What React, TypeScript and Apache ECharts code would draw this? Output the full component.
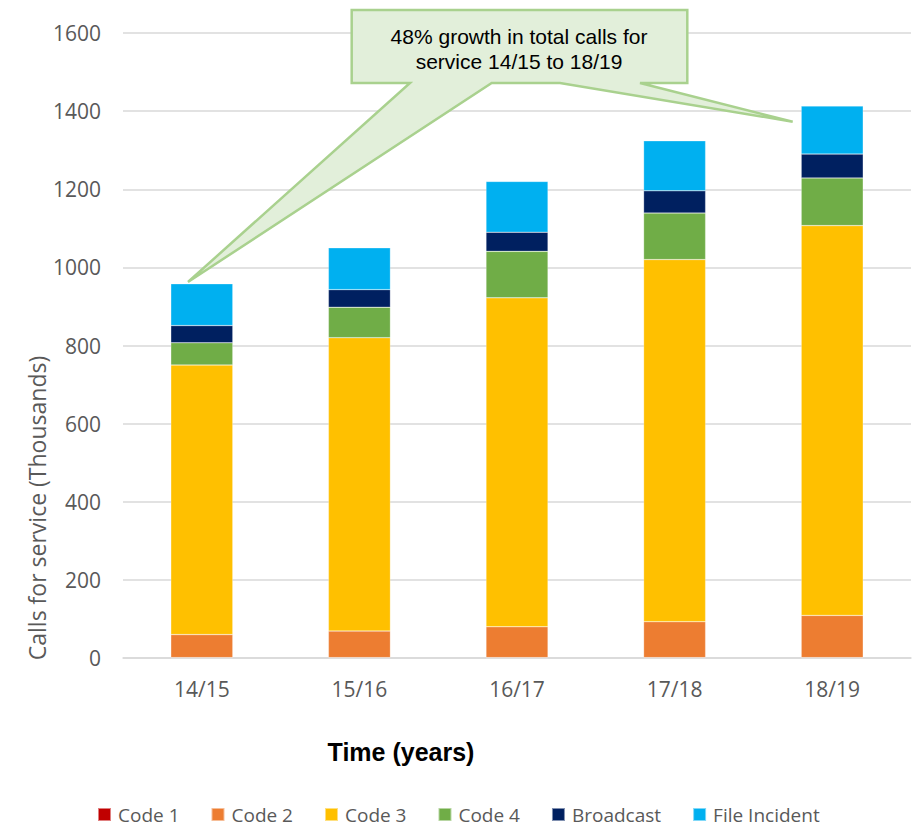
import React, { useEffect, useRef } from "react";
import * as echarts from "echarts";

// Calls for service by financial year, in thousands
const years = ["14/15", "15/16", "16/17", "17/18", "18/19"];
const code1 = [1, 1, 1, 1, 1];
const code2 = [59, 68, 79, 92, 108];
const code3 = [690, 751, 842, 927, 998];
const code4 = [57, 78, 119, 119, 122];
const broadcast = [44, 45, 49, 57, 61];
const fileIncident = [107, 107, 130, 128, 123];

const yTicks = { min: 0, max: 1600, interval: 200 };

const seriesDefs = [
  { name: "Code 1", data: code1, color: "#C00000" },
  { name: "Code 2", data: code2, color: "#ED7D31" },
  { name: "Code 3", data: code3, color: "#FFC000" },
  { name: "Code 4", data: code4, color: "#70AD47" },
  { name: "Broadcast", data: broadcast, color: "#002060" },
  { name: "File Incident", data: fileIncident, color: "#00B0F0" },
];

const calloutLines = ["48% growth in total calls for", "service 14/15 to 18/19"];

const TICK_FONT = "'Open Sans', 'Noto Sans', sans-serif";
const ARIAL = "'Liberation Sans', Arial, sans-serif";
const GREY = "#595959";

export default function App() {
  const ref = useRef<HTMLDivElement>(null);

  useEffect(() => {
    document.body.style.margin = "0";
    const chart = echarts.init(ref.current!, null, { renderer: "svg" });

    const option: echarts.EChartsOption = {
      animation: false,
      backgroundColor: "#ffffff",
      grid: { left: 123, right: 1, top: 33, bottom: 169, containLabel: false },
      xAxis: {
        type: "category",
        data: years,
        axisLine: { show: true, lineStyle: { color: "#d9d9d9", width: 1.5 } },
        axisTick: { show: false },
        axisLabel: {
          color: GREY,
          fontFamily: TICK_FONT,
          fontSize: 21,
          margin: 20,
        },
      },
      yAxis: {
        type: "value",
        min: yTicks.min,
        max: yTicks.max,
        interval: yTicks.interval,
        axisLine: { show: false },
        axisTick: { show: false },
        splitLine: { lineStyle: { color: "#d9d9d9", width: 1.5 } },
        axisLabel: {
          color: GREY,
          fontFamily: TICK_FONT,
          fontSize: 21,
          margin: 22,
          formatter: (v: number) => String(v),
        },
      },
      legend: {
        data: seriesDefs.map((s) => s.name),
        left: 97,
        top: 805,
        padding: 0,
        itemWidth: 13,
        itemHeight: 13,
        itemGap: 31,
        icon: "rect",
        textStyle: {
          color: GREY,
          fontFamily: TICK_FONT,
          fontSize: 19,
          lineHeight: 19,
          padding: [0, 0, 0, 2],
        },
      },
      series: seriesDefs.map((s) => ({
        name: s.name,
        type: "bar",
        stack: "calls",
        barWidth: 62,
        data: s.data,
        itemStyle: {
          color: s.color,
          borderColor: "rgba(255,255,255,0.5)",
          borderWidth: 0.5,
        },
      })),
      graphic: [
        {
          type: "text",
          x: 401,
          y: 752,
          style: {
            text: "Time (years)",
            align: "center",
            verticalAlign: "middle",
            fill: "#000000",
            font: `bold 25px ${ARIAL}`,
          },
        },
        {
          type: "text",
          x: 37,
          y: 508,
          rotation: Math.PI / 2,
          style: {
            text: "Calls for service (Thousands)",
            align: "center",
            verticalAlign: "middle",
            fill: GREY,
            font: `23px ${TICK_FONT}`,
          },
        },
        {
          type: "polygon",
          z: 100,
          shape: {
            points: [
              [351.7, 10],
              [687.3, 10],
              [687.3, 83],
              [640, 83],
              [792.7, 121.7],
              [560, 83],
              [491.7, 83],
              [188, 282],
              [410, 83],
              [351.7, 83],
            ],
          },
          style: { fill: "#E2EFDA", stroke: "#A9D18E", lineWidth: 2.5, lineJoin: "miter" },
        },
        {
          type: "text",
          z: 101,
          x: 519,
          y: 36,
          style: {
            text: calloutLines[0],
            align: "center",
            verticalAlign: "middle",
            fill: "#000000",
            font: `21px ${ARIAL}`,
          },
        },
        {
          type: "text",
          z: 101,
          x: 519,
          y: 61,
          style: {
            text: calloutLines[1],
            align: "center",
            verticalAlign: "middle",
            fill: "#000000",
            font: `21px ${ARIAL}`,
          },
        },
      ],
    };

    chart.setOption(option);
    return () => chart.dispose();
  }, []);

  return <div ref={ref} style={{ width: 912, height: 827 }} />;
}
